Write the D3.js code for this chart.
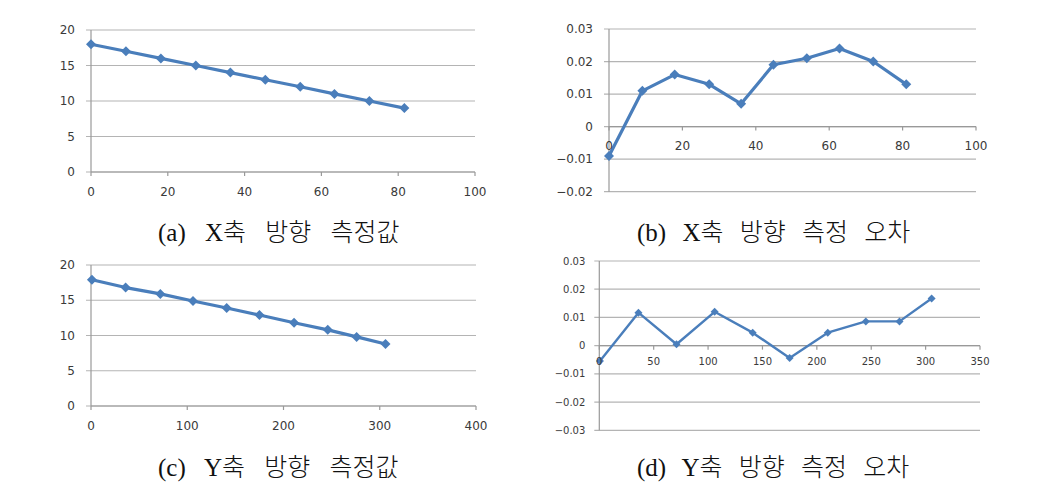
<!DOCTYPE html>
<html><head><meta charset="utf-8">
<script src="https://cdn.jsdelivr.net/npm/d3@7/dist/d3.min.js"></script>
<style>body{margin:0;background:#fff;}svg{display:block;}</style>
</head><body>
<svg id="c" width="1037" height="498"></svg>
<script>
// ---- data ----
const xA = [0, 9.1, 18.2, 27.3, 36.3, 45.4, 54.5, 63.4, 72.5, 81.6];
const yA = [18, 17, 16, 15, 14, 13, 12, 11, 10, 9];
const xB = [0, 9.1, 17.9, 27.3, 36, 44.8, 53.9, 62.8, 72, 81];
const yB = [-0.009, 0.011, 0.016, 0.013, 0.007, 0.019, 0.021, 0.024, 0.020, 0.013];
const xC = [1, 36, 72, 106, 141, 175, 211, 246, 276, 306];
const yC = [17.9, 16.8, 15.9, 14.9, 13.9, 12.9, 11.8, 10.8, 9.8, 8.8];
const xD = [0.6, 36, 71, 106, 141, 175, 210, 245, 276, 305.5];
const yD = [-0.0054, 0.0117, 0.0005, 0.012, 0.0046, -0.0044, 0.0046, 0.0086, 0.0086, 0.0167];

const xTicksA = [0, 20, 40, 60, 80, 100];
const yTicksA = [0, 5, 10, 15, 20];
const xTicksB = [0, 20, 40, 60, 80, 100];
const yTicksB = [-0.02, -0.01, 0, 0.01, 0.02, 0.03];
const xTicksC = [0, 100, 200, 300, 400];
const yTicksC = [0, 5, 10, 15, 20];
const xTicksD = [0, 50, 100, 150, 200, 250, 300, 350];
const yTicksD = [-0.03, -0.02, -0.01, 0, 0.01, 0.02, 0.03];

const captions = ["(a) X축 방향 측정값", "(b) X축 방향 측정 오차", "(c) Y축 방향 측정값", "(d) Y축 방향 측정 오차"];

const svg = d3.select("#c");
const blue = "#4a7ebb";
const grid = "#b4b4b4";
const txt = "#3a3a3a";

function panel(o) {
  const x = d3.scaleLinear().domain(o.xd).range([o.left, o.right]);
  const y = d3.scaleLinear().domain(o.yd).range([o.bottom, o.top]);
  const g = svg.append("g");
  g.selectAll("line.g").data(o.yt).join("line")
    .attr("x1", o.left - 5).attr("x2", o.right)
    .attr("y1", d => y(d)).attr("y2", d => y(d))
    .attr("stroke", grid).attr("stroke-width", 1.2);
  g.append("line").attr("x1", o.left).attr("x2", o.left)
    .attr("y1", y(o.yd[0])).attr("y2", y(o.yd[1]))
    .attr("stroke", "#999").attr("stroke-width", 1.2);
  const y0 = y(0);
  g.append("line").attr("x1", o.left).attr("x2", o.right)
    .attr("y1", y0).attr("y2", y0).attr("stroke", "#999").attr("stroke-width", 1.2);
  g.selectAll("line.t").data(o.xt).join("line")
    .attr("x1", d => x(d)).attr("x2", d => x(d))
    .attr("y1", y0).attr("y2", y0 + 4)
    .attr("stroke", "#999").attr("stroke-width", 1.2);
  const line = d3.line().x((d, i) => x(o.xs[i])).y(d => y(d));
  g.append("path").datum(o.ys).attr("d", line)
    .attr("fill", "none").attr("stroke", blue).attr("stroke-width", o.lw)
    .attr("stroke-linejoin", "round");
  const r = o.mr;
  g.selectAll("path.m").data(o.ys).join("path")
    .attr("d", `M0,${-r}L${r},0L0,${r}L${-r},0Z`)
    .attr("transform", (d, i) => `translate(${x(o.xs[i])},${y(d)})`)
    .attr("fill", blue);
  g.selectAll("text.y").data(o.yt).join("text")
    .attr("x", o.left - o.ylOff).attr("y", d => y(d)).attr("dy", "0.35em")
    .attr("text-anchor", "end").attr("font-family", "DejaVu Sans")
    .attr("font-size", o.fs).attr("fill", txt)
    .text(d => d === 0 ? "0" : (o.dec ? d3.format(".2f")(d) : String(d)));
  g.selectAll("text.x").data(o.xt).join("text")
    .attr("x", d => x(d)).attr("y", y0 + o.xlOff).attr("dy", "0.35em")
    .attr("text-anchor", "middle").attr("font-family", "DejaVu Sans")
    .attr("font-size", o.fs).attr("fill", txt)
    .text(d => String(d));
  svg.append("text").attr("x", o.capX).attr("y", o.capY)
    .attr("font-family", "'Liberation Serif','Noto Sans CJK KR'")
    .attr("font-size", 25).attr("font-weight", 300).attr("fill", "#111")
    .attr("word-spacing", o.ws)
    .text(o.cap);
}

panel({xd: [0, 100], yd: [0, 20], left: 91, right: 475, top: 30, bottom: 172,
  xs: xA, ys: yA, xt: xTicksA, yt: yTicksA, lw: 3.2, mr: 5, fs: 12, ylOff: 16, xlOff: 20,
  dec: false, cap: captions[0], capX: 158, capY: 241, ws: 13});
panel({xd: [0, 100], yd: [-0.02, 0.03], left: 609, right: 976, top: 29, bottom: 191.7,
  xs: xB, ys: yB, xt: xTicksB, yt: yTicksB, lw: 3.2, mr: 5, fs: 12, ylOff: 16, xlOff: 19.5,
  dec: true, cap: captions[1], capX: 637, capY: 241, ws: 10});
panel({xd: [0, 400], yd: [0, 20], left: 91, right: 476, top: 265, bottom: 406,
  xs: xC, ys: yC, xt: xTicksC, yt: yTicksC, lw: 3.2, mr: 5, fs: 12, ylOff: 16, xlOff: 20,
  dec: false, cap: captions[2], capX: 158, capY: 476, ws: 13});
panel({xd: [0, 350], yd: [-0.03, 0.03], left: 599.3, right: 980, top: 261, bottom: 430.3,
  xs: xD, ys: yD, xt: xTicksD, yt: yTicksD, lw: 2.4, mr: 4, fs: 10, ylOff: 14, xlOff: 16,
  dec: true, cap: captions[3], capX: 637, capY: 476, ws: 10});
</script>
</body></html>
